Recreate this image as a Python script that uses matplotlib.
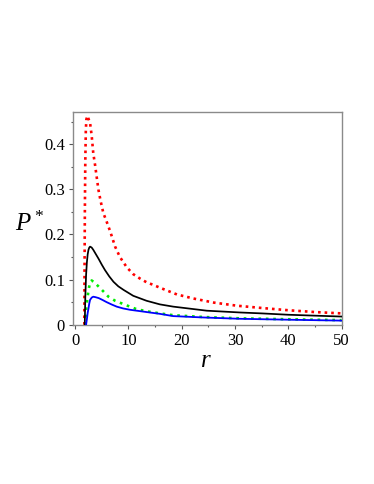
import matplotlib
matplotlib.use("Agg")
import matplotlib.pyplot as plt
from matplotlib.ticker import MultipleLocator

plt.rcParams['font.family'] = ['Liberation Serif', 'DejaVu Serif']
plt.rcParams['mathtext.fontset'] = 'custom'
plt.rcParams['mathtext.rm'] = 'Liberation Serif'
plt.rcParams['mathtext.it'] = 'Liberation Serif:italic'

# red dotted curve
r_red = [1.72, 1.76, 1.82, 1.9, 2.0, 2.1, 2.3, 2.55, 2.8, 3.1, 3.4, 3.75, 4.07, 4.37, 4.8,
         5.3, 5.8, 6.6, 7.5, 8.4, 9.7, 10.9, 12.2, 13.4, 14.7, 15.9, 19.1, 22.2, 26.0,
         30.4, 35.0, 40.0, 45.0, 50.0]
p_red = [0.0, 0.12, 0.25, 0.36, 0.43, 0.455, 0.463, 0.455, 0.447, 0.419, 0.380, 0.353,
         0.325, 0.299, 0.273, 0.247, 0.232, 0.206, 0.173, 0.150, 0.127, 0.112, 0.102,
         0.094, 0.088, 0.082, 0.067, 0.058, 0.049, 0.042, 0.037, 0.032, 0.028, 0.025]

# black solid curve
r_blk = [1.8, 1.9, 2.05, 2.2, 2.35, 2.5, 2.65, 2.8, 3.1, 3.4, 3.8, 4.4, 5.0, 5.6, 6.4,
         7.2, 8.1, 9.1, 10.9, 13.4, 15.9, 18.4, 24.7, 31.0, 35.0, 40.0, 45.0, 50.0]
p_blk = [0.0, 0.06, 0.11, 0.138, 0.156, 0.166, 0.171, 0.173, 0.171, 0.166, 0.158, 0.146,
         0.133, 0.121, 0.107, 0.095, 0.085, 0.077, 0.064, 0.053, 0.045, 0.040, 0.031,
         0.027, 0.025, 0.022, 0.020, 0.018]

# green dotted curve
r_grn = [1.88, 2.0, 2.15, 2.3, 2.5, 2.7, 3.1, 3.75, 4.7, 6.25, 7.5, 9.4, 11.6, 13.8, 15.9,
         18.4, 24.0, 31.0, 40.0, 50.0]
p_grn = [0.0, 0.025, 0.045, 0.058, 0.076, 0.088, 0.098, 0.092, 0.081, 0.062, 0.053, 0.044,
         0.034, 0.029, 0.025, 0.021, 0.017, 0.014, 0.012, 0.010]

# blue solid curve
r_blu = [2.05, 2.2, 2.35, 2.5, 2.65, 2.8, 3.1, 3.4, 3.8, 4.4, 5.1, 5.9, 6.8, 7.8, 9.0,
         10.3, 13.4, 15.9, 18.4, 24.0, 31.0, 40.0, 50.0]
p_blu = [0.0, 0.012, 0.026, 0.036, 0.047, 0.055, 0.060, 0.062, 0.061, 0.059, 0.055, 0.050,
         0.045, 0.040, 0.036, 0.033, 0.028, 0.024, 0.019, 0.016, 0.013, 0.011, 0.009]

x_ticks = [0, 10, 20, 30, 40, 50]
y_ticks = [0, 0.1, 0.2, 0.3, 0.4]
y_tick_labels = ['0', '0.1', '0.2', '0.3', '0.4']

fig = plt.figure(figsize=(3.74, 4.84), dpi=100)
ax = fig.add_axes([72.5 / 374, 1 - 325.3 / 484, (341.5 - 72.5) / 374, (325.3 - 112) / 484])

ax.plot(r_red, p_red, color='#ff0000', lw=1.9, linestyle=(0, (1.0, 1.5)),
        dash_capstyle='butt', zorder=3)
ax.plot(r_blk, p_blk, color='black', lw=1.25, zorder=4)
ax.plot(r_grn, p_grn, color='#00ee00', lw=1.9, linestyle=(0, (1.0, 1.8)),
        dash_capstyle='butt', zorder=3)
ax.plot(r_blu, p_blu, color='#0000ff', lw=1.3, zorder=5)

ax.set_xlim(-0.5, 50)
ax.set_ylim(-0.0014, 0.4715)
ax.set_xticks(x_ticks)
ax.set_yticks(y_ticks)
ax.set_yticklabels(y_tick_labels)
ax.xaxis.set_minor_locator(MultipleLocator(5))
ax.yaxis.set_minor_locator(MultipleLocator(0.05))

for s in ax.spines.values():
    s.set_color('#8a8a8a')
    s.set_linewidth(1.0)
ax.tick_params(which='major', direction='out', length=3.0, width=0.8, color='#555555',
               labelsize=12, pad=2.5)
ax.tick_params(which='minor', direction='out', length=1.6, width=0.8, color='#555555')

fig.text(30 / 374, 1 - 224 / 484, r'$P^*$', fontsize=18, ha='center', va='center')
fig.text(206 / 374, 1 - 361 / 484, r'$r$', fontsize=18, ha='center', va='center')

fig.savefig('out.png', dpi=100)
